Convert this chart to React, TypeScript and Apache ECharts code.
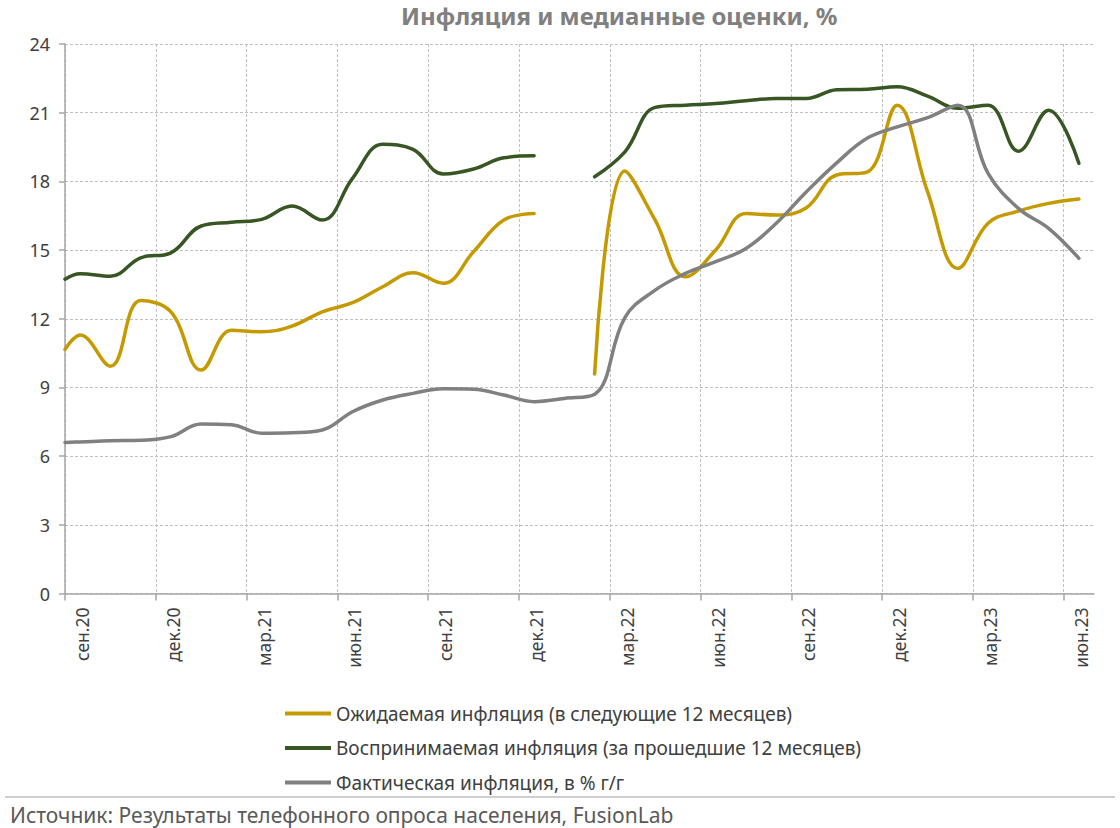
import React, { useEffect, useRef } from "react";
import * as echarts from "echarts";

const titleText = "Инфляция и медианные оценки, %";
const sourceText = "Источник: Результаты телефонного опроса населения, FusionLab";

const months = [
  "сен.20", "окт.20", "ноя.20", "дек.20", "янв.21", "фев.21", "мар.21", "апр.21", "май.21",
  "июн.21", "июл.21", "авг.21", "сен.21", "окт.21", "ноя.21", "дек.21", "янв.22", "фев.22",
  "мар.22", "апр.22", "май.22", "июн.22", "июл.22", "авг.22", "сен.22", "окт.22", "ноя.22",
  "дек.22", "янв.23", "фев.23", "мар.23", "апр.23", "май.23", "июн.23", "июл.23",
];

// position of each observation, in months from сен.20
const pointPos = [
  0, 0.5, 1.5, 2.5, 3.5, 4.5, 5.5, 6.5, 7.5, 8.5, 9.5, 10.5, 11.5, 12.5, 13.5, 14.5, 15.5,
  16.5, 17.5, 18.5, 19.5, 20.5, 21.5, 22.5, 23.5, 24.5, 25.5, 26.5, 27.5, 28.5, 29.5, 30.5,
  31.5, 32.5, 33.5,
];

const expected = [
  10.66, 11.29, 9.93, 12.8, 12.3, 9.76, 11.5, 11.43, 11.68, 12.3, 12.7, 13.4, 14.01, 13.55,
  14.93, 16.31, 16.6, null, 9.59, 18.45, 16.31, 13.83, 15.0, 16.6, 16.53, 16.85, 18.28, 18.4,
  21.33, 17.55, 14.2, 16.17, 16.7, 17.04, 17.23,
];

const perceived = [
  13.73, 13.97, 13.86, 14.66, 14.88, 16.05, 16.21, 16.34, 16.92, 16.31, 18.13, 19.62, 19.4,
  18.32, 18.54, 19.03, 19.12, null, 18.2, 19.29, 21.23, 21.33, 21.4, 21.52, 21.62, 21.62, 22.0,
  22.02, 22.13, 21.72, 21.19, 21.33, 19.32, 21.11, 18.79,
];

const actual = [
  6.6, 6.62, 6.67, 6.69, 6.85, 7.4, 7.37, 7.0, 7.02, 7.14, 7.94, 8.45, 8.74, 8.94, 8.92, 8.67,
  8.38, 8.52, 8.7, 12.05, 13.25, 13.98, 14.49, 15.07, 16.17, 17.55, 18.81, 19.88, 20.38, 20.78,
  21.33, 18.35, 16.82, 15.95, 14.64,
];

const seriesNames = [
  "Ожидаемая инфляция (в следующие 12 месяцев)",
  "Воспринимаемая инфляция (за прошедшие 12 месяцев)",
  "Фактическая инфляция, в % г/г",
];
const seriesColors = ["#C49A00", "#375623", "#808080"];

const FONT = "Noto Sans";

export default function App() {
  const ref = useRef<HTMLDivElement>(null);

  useEffect(() => {
    if (!ref.current) return;
    const chart = echarts.init(ref.current, null, { renderer: "svg" });
    const pairs = (vals: (number | null)[]) =>
      pointPos.map((p, i) => [p, vals[i] == null ? "-" : vals[i]]);
    const valueSets = [expected, perceived, actual];

    chart.setOption({
      animation: false,
      backgroundColor: "#ffffff",
      title: {
        text: titleText,
        left: 396,
        top: -2,
        textStyle: { fontFamily: FONT, fontSize: 24, fontWeight: "bold", color: "#808080" },
      },
      grid: { left: 65, right: 26, top: 44, bottom: 234.5 },
      legend: {
        orient: "vertical",
        left: 280,
        top: 699,
        itemGap: 15.5,
        itemWidth: 46,
        itemHeight: 4,
        icon: "rect",
        selectedMode: false,
        textStyle: { fontFamily: FONT, fontSize: 19, color: "#404040" },
        data: seriesNames,
      },
      xAxis: [
        {
          type: "category",
          data: months,
          boundaryGap: false,
          axisLine: { lineStyle: { color: "#A6A6A6", width: 1.5 } },
          axisTick: { show: true, interval: 2, length: 7, lineStyle: { color: "#A6A6A6", width: 1.5 } },
          axisLabel: {
            interval: 2,
            rotate: 90,
            verticalAlign: "top",
            lineHeight: 34,
            margin: 14,
            fontFamily: FONT,
            fontSize: 17.5,
            color: "#404040",
          },
          splitLine: {
            show: true,
            interval: 2,
            lineStyle: { type: [3, 2], color: "#BFBFBF", width: 1 },
          },
        },
        { type: "value", min: 0, max: 34, show: false },
      ],
      yAxis: {
        type: "value",
        min: 0,
        max: 24,
        interval: 3,
        axisLine: { show: true, lineStyle: { color: "#A6A6A6", width: 1.5 } },
        axisTick: { show: true, length: 6, lineStyle: { color: "#A6A6A6", width: 1.5 } },
        axisLabel: { fontFamily: FONT, fontSize: 18, color: "#404040", margin: 15 },
        splitLine: { lineStyle: { type: [3, 2], color: "#BFBFBF", width: 1 } },
      },
      series: seriesNames.map((name, i) => ({
        name,
        type: "line",
        xAxisIndex: 1,
        data: pairs(valueSets[i]),
        smooth: 0.4,
        symbol: "none",
        connectNulls: false,
        lineStyle: { width: 3.5, color: seriesColors[i], cap: "round" },
        itemStyle: { color: seriesColors[i] },
        z: i === 2 ? 3 : 2,
      })),
      graphic: [
        {
          type: "line",
          shape: { x1: 5, y1: 797, x2: 1115, y2: 797 },
          style: { stroke: "#BFBFBF", lineWidth: 1.5 },
        },
        {
          type: "text",
          left: 10,
          top: 804,
          style: { text: sourceText, fontFamily: FONT, fontSize: 21, fill: "#595959" },
        },
      ],
    });

    return () => chart.dispose();
  }, []);

  return (
    <div
      ref={ref}
      style={{ position: "fixed", left: 0, top: 0, width: 1120, height: 828, background: "#fff" }}
    />
  );
}
